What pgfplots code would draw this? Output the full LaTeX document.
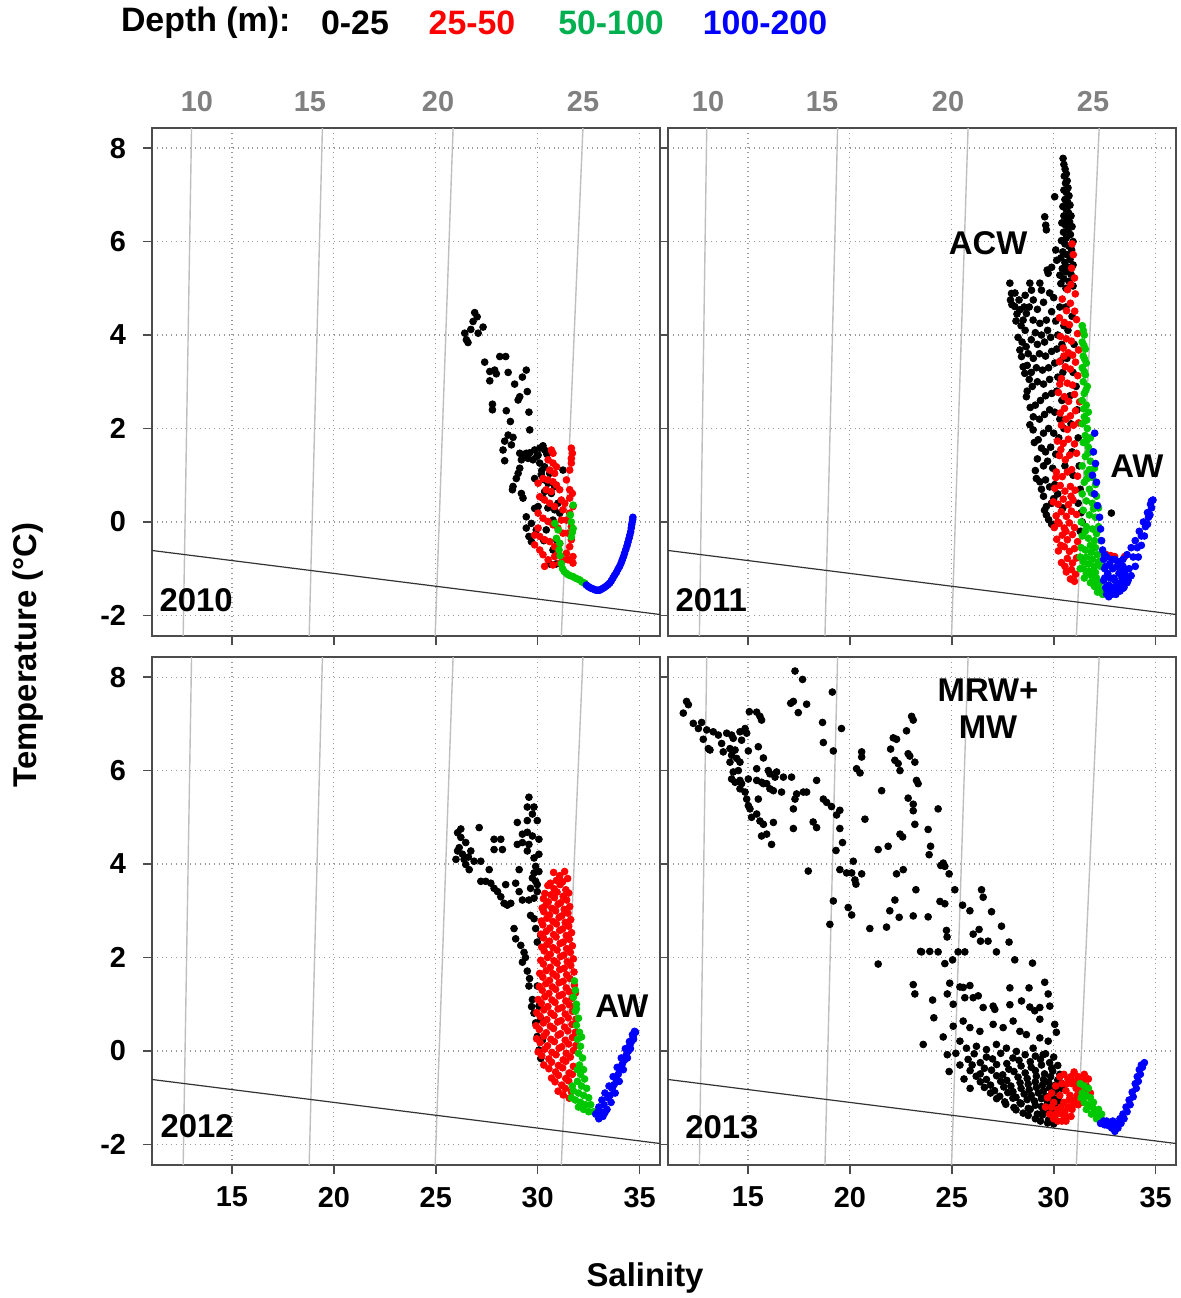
\documentclass[border=0pt]{standalone}
\usepackage{pgfplots}
\pgfplotsset{compat=1.18}
\usepackage{fontspec}
\setmainfont{Liberation Sans}
\definecolor{ptgreen}{RGB}{0,200,0}
\definecolor{lggreen}{RGB}{0,176,80}
\definecolor{ptblue}{RGB}{0,0,255}
\definecolor{ptred}{RGB}{255,0,0}
\definecolor{lblgray}{RGB}{128,128,128}
\tikzset{plab/.style={font=\fontsize{16.5}{18}\selectfont\bfseries}}
\pgfplotsset{
  tspanel/.style={
    scale only axis, width=254bp, height=254bp,
    xmin=11.08, xmax=36, ymin=-2.44, ymax=8.43,
    xtick={15,20,25,30,35}, ytick={-2,0,2,4,6,8},
    tick align=outside, tick pos=left,
    major tick length=4.5bp,
    grid=major, major grid style={dotted, black!40, line width=0.6bp},
    axis line style={black!70, line width=0.8bp},
    tick style={black!70, line width=0.8bp},
    ticklabel style={font=\fontsize{14.5}{16}\selectfont\bfseries},
    /pgf/number format/assume math mode=true,
    anchor=north west,
  },
  dots/.style={only marks, mark=*, mark size=1.7bp, color=#1, mark options={draw=#1, fill=#1}},
  isoline/.style={no marks, color=black!25, line width=0.7bp},
  frz/.style={no marks, color=black!80, line width=0.6bp},
}
\begin{document}
\begin{tikzpicture}
\path[use as bounding box] (0bp,0bp) rectangle (590.5bp,-649bp);

% ---------------- 2010 ----------------
\begin{axis}[tspanel, at={(76bp,-64bp)}, xticklabels={}, yticklabel style={xshift=-5bp}]
\addplot[isoline] coordinates {(12.61,-2.44) (13.02,8.43)};
\addplot[isoline] coordinates {(18.79,-2.44) (19.44,8.43)};
\addplot[isoline] coordinates {(24.97,-2.44) (25.85,8.43)};
\addplot[isoline] coordinates {(31.16,-2.44) (32.22,8.43)};
\addplot[frz] coordinates {(11.08,-0.61) (36,-1.98)};
\addplot[dots=black] coordinates {(26.91,4.48)(27.03,4.39)(26.83,4.29)(26.72,4.12)(26.42,4.04)(27.08,4.04)(27.32,4.17)(26.58,3.84)(26.50,3.90)(27.40,3.42)(28.14,3.54)(28.43,3.54)(27.65,3.22)(27.89,3.25)(27.97,3.17)(27.65,3.02)(28.55,3.20)(29.44,3.25)(29.25,3.10)(28.87,2.95)(29.49,2.79)(29.12,2.68)(29.04,2.61)(27.78,2.52)(27.78,2.40)(28.46,2.38)(29.57,2.35)(28.66,2.15)(29.61,1.97)(28.55,1.86)(28.79,1.81)(28.38,1.73)(28.30,1.54)(28.71,1.65)(28.38,1.31)(29.12,1.47)(29.28,1.43)(29.44,1.47)(29.61,1.48)(29.85,1.54)(30.10,1.58)(30.26,1.63)(30.34,1.54)(29.20,1.33)(29.53,1.36)(29.77,1.33)(30.02,1.43)(30.10,1.26)(30.34,1.18)(29.12,1.15)(29.04,1.04)(28.95,0.93)(28.79,0.76)(28.76,0.69)(29.20,0.61)(29.28,0.51)(29.85,0.93)(30.18,1.01)(30.34,0.90)(30.51,0.83)(30.83,0.76)(30.67,0.61)(30.26,0.51)(30.02,0.33)(29.85,0.29)(29.44,0.11)(29.69,-0.03)(29.44,-0.13)(29.57,-0.31)(29.69,-0.42)(29.93,-0.17)(30.42,-0.17)(30.75,0.04)(30.99,0.40)(30.83,0.26)(31.08,0.19)(30.92,-0.38)(30.75,-0.60)(31.24,1.11)(30.34,0.65)(30.59,1.04)(29.95,1.40)(30.45,1.45)(29.35,1.40)(30.20,1.10)(30.50,0.30)(30.30,-0.40)(30.90,-0.90)(30.60,-0.90)};
\addplot[dots=ptred] coordinates {(30.67,1.54)(30.75,1.47)(31.65,1.58)(31.70,1.47)(31.65,1.36)(30.75,1.26)(30.92,1.18)(30.59,1.11)(30.83,1.04)(30.26,0.93)(30.51,0.90)(30.75,0.86)(30.92,0.79)(30.02,0.83)(30.42,0.69)(30.67,0.65)(31.57,0.69)(31.70,0.61)(31.57,0.51)(30.10,0.54)(30.34,0.47)(30.59,0.40)(30.83,0.33)(30.02,0.19)(30.26,0.08)(30.51,0.01)(30.75,-0.06)(30.02,-0.13)(29.85,-0.28)(30.10,-0.31)(30.34,-0.38)(30.59,-0.42)(29.85,-0.49)(30.10,-0.60)(30.26,-0.70)(30.51,-0.81)(30.34,-0.95)(30.83,-0.53)(30.99,-0.67)(30.83,-0.74)(31.08,-0.88)(31.24,-0.81)(31.41,-0.67)(31.57,-0.53)(31.65,-0.38)(31.49,-0.24)(31.65,-0.10)(31.41,0.04)(31.57,0.19)(31.73,0.33)(31.33,0.40)(31.49,-0.81)(31.73,-0.74)(31.73,-0.88)(31.08,-0.46)(31.24,-0.24)(30.99,-0.13)(31.16,0.04)(31.24,0.26)(31.16,0.47)(31.08,0.69)(31.41,0.90)(31.57,1.11)(31.65,1.26)(30.51,1.33)(30.75,-0.92)};
\addplot[dots=ptgreen] coordinates {(31.74,0.36)(31.65,0.00)(31.74,-0.14)(31.65,-0.32)(30.84,-0.03)(31.00,-0.17)(30.92,-0.35)(31.08,-0.46)(31.60,0.15)(31.70,-0.22)(31.05,-0.60)(31.10,-0.72)(31.16,-0.89)(31.22,-1.00)(31.30,-1.06)(31.41,-1.10)(31.50,-1.13)(31.60,-1.15)(31.74,-1.17)(31.85,-1.20)(31.95,-1.22)(32.06,-1.24)(32.16,-1.28)(32.25,-1.30)(32.31,-1.31)};
\addplot[dots=ptblue] coordinates {(32.39,-1.35)(32.47,-1.38)(32.55,-1.40)(32.63,-1.42)(32.71,-1.43)(32.80,-1.45)(32.88,-1.46)(32.96,-1.46)(33.04,-1.46)(33.12,-1.44)(33.20,-1.42)(33.28,-1.40)(33.37,-1.37)(33.45,-1.34)(33.53,-1.31)(33.61,-1.26)(33.69,-1.20)(33.77,-1.14)(33.86,-1.08)(33.94,-1.01)(34.02,-0.95)(34.09,-0.88)(34.15,-0.81)(34.21,-0.74)(34.26,-0.67)(34.32,-0.59)(34.38,-0.51)(34.43,-0.43)(34.48,-0.35)(34.52,-0.28)(34.56,-0.21)(34.59,-0.13)(34.61,-0.06)(34.64,0.00)(34.66,0.05)(34.67,0.10)};
\node[plab] at (rel axis cs:0.087,0.071) {2010};
\end{axis}

% ---------------- 2011 ----------------
\begin{axis}[tspanel, at={(334bp,-64bp)}, xticklabels={}, yticklabels={}]
\addplot[isoline] coordinates {(12.62,-2.44) (12.98,8.43)};
\addplot[isoline] coordinates {(18.78,-2.44) (19.40,8.43)};
\addplot[isoline] coordinates {(24.99,-2.44) (25.80,8.43)};
\addplot[isoline] coordinates {(31.11,-2.44) (32.23,8.43)};
\addplot[frz] coordinates {(11.08,-0.61) (36,-1.98)};
\addplot[dots=black] coordinates {(30.46,7.78)(30.50,7.65)(30.56,7.55)(30.62,7.45)(30.52,7.40)(30.66,7.30)(30.58,7.25)(30.70,7.15)(30.50,7.10)(30.62,7.05)(30.75,6.98)(30.55,6.90)(30.68,6.85)(30.80,6.78)(30.45,6.75)(30.60,6.70)(30.72,6.62)(30.85,6.55)(30.50,6.55)(30.65,6.48)(30.78,6.42)(30.40,6.40)(30.58,6.35)(30.90,6.32)(30.70,6.25)(30.48,6.20)(30.82,6.15)(30.62,6.08)(30.95,6.00)(30.38,6.02)(30.55,5.95)(30.75,5.90)(30.88,5.82)(30.45,5.78)(30.65,5.72)(30.35,5.65)(30.80,5.62)(30.55,5.55)(30.95,5.50)(30.70,5.45)(30.42,5.42)(30.60,5.35)(30.85,5.30)(30.30,5.28)(30.50,5.20)(30.75,5.15)(30.35,5.10)(30.95,5.05)(30.60,5.00)(30.05,6.96)(29.56,6.53)(29.61,6.35)(29.64,6.25)(30.10,5.82)(29.68,5.39)(29.73,5.32)(30.15,5.60)(29.90,5.45)(27.85,5.11)(27.93,4.89)(27.88,4.75)(27.95,4.65)(28.09,4.61)(28.34,4.54)(28.66,4.46)(28.50,4.32)(28.83,5.11)(28.91,4.96)(29.32,5.11)(29.40,4.96)(28.99,4.32)(29.32,4.25)(29.64,4.32)(28.20,4.45)(28.15,4.30)(28.40,4.20)(28.60,4.10)(28.80,4.60)(29.00,4.75)(29.20,4.55)(29.50,4.70)(29.80,4.90)(30.00,4.80)(29.90,4.50)(30.10,4.30)(29.70,4.10)(29.40,4.00)(29.10,4.05)(28.90,3.90)(29.20,3.80)(29.55,3.85)(29.85,3.95)(30.20,4.00)(30.30,4.60)(28.34,3.68)(28.42,3.54)(28.50,3.32)(28.58,3.18)(28.75,3.60)(29.00,3.50)(29.30,3.60)(29.60,3.55)(29.90,3.65)(30.15,3.70)(30.40,3.80)(30.50,4.20)(28.90,3.20)(29.15,3.30)(29.45,3.25)(29.75,3.30)(30.05,3.40)(30.35,3.45)(28.66,2.68)(28.95,2.90)(29.20,3.00)(29.50,2.95)(29.80,3.05)(30.20,3.10)(30.45,3.20)(28.83,2.08)(28.99,1.97)(29.10,2.50)(29.35,2.60)(29.60,2.70)(29.90,2.75)(30.15,2.80)(30.40,2.60)(29.24,1.76)(29.40,1.58)(29.30,2.20)(29.55,2.30)(29.80,2.40)(30.05,2.35)(30.30,2.20)(29.50,1.90)(29.75,2.00)(30.00,1.90)(30.25,1.80)(29.60,1.50)(29.85,1.60)(30.10,1.45)(29.50,1.20)(29.70,1.30)(29.95,1.15)(29.15,0.93)(29.32,0.86)(29.60,0.90)(29.80,0.75)(30.05,0.80)(29.64,0.33)(29.64,0.15)(29.89,0.40)(29.50,0.55)(30.00,0.50)(30.20,0.60)(32.83,0.19)(30.60,4.60)(30.90,4.40)(30.70,4.10)(31.00,3.80)(30.65,3.50)(30.95,3.20)(31.10,2.90)(30.80,2.70)(31.15,2.40)(30.85,2.10)(31.20,1.80)(30.90,1.50)(31.25,1.20)(30.95,1.00)(31.30,0.70)(31.20,0.40)(31.35,0.20)(31.40,0.00)(31.30,-0.20)(30.50,2.00)(30.55,1.20)(30.45,0.30)(28.10,4.90)(28.30,4.75)(28.60,4.85)(28.55,4.60)(28.25,3.95)(28.45,3.85)(28.65,3.75)(28.70,3.35)(28.80,3.05)(28.70,2.80)(28.85,2.45)(29.00,2.25)(29.05,1.70)(29.20,1.35)(29.10,1.10)(29.40,0.70)(29.55,0.25)(29.75,0.05)(29.90,-0.05)};
\addplot[dots=ptred] coordinates {(30.90,5.95)(30.96,5.72)(30.88,5.43)(31.02,5.22)(30.84,5.08)(31.06,4.88)(30.68,4.97)(30.42,4.77)(30.63,4.52)(30.82,4.68)(31.03,4.51)(30.28,4.37)(30.52,4.27)(30.77,4.22)(31.12,4.33)(30.33,3.97)(30.62,3.92)(30.87,3.87)(31.17,4.03)(30.47,3.72)(30.72,3.62)(30.93,3.57)(31.22,3.68)(30.28,3.43)(30.57,3.32)(30.82,3.27)(31.07,3.42)(30.38,3.07)(30.67,2.97)(30.92,2.93)(31.18,3.13)(30.23,2.77)(30.52,2.68)(30.73,2.58)(31.02,2.73)(31.27,2.57)(30.32,2.33)(30.53,2.43)(30.82,2.27)(31.07,2.38)(30.38,2.07)(30.67,1.98)(30.97,2.07)(31.22,2.12)(30.18,1.73)(30.47,1.68)(30.72,1.77)(31.02,1.67)(30.28,1.42)(30.57,1.33)(30.78,1.43)(31.12,1.47)(30.13,1.07)(30.42,0.97)(30.67,1.07)(30.88,1.12)(31.17,0.98)(30.05,0.72)(30.32,0.78)(30.55,0.66)(30.82,0.76)(31.05,0.68)(29.98,0.43)(30.22,0.38)(30.47,0.49)(30.72,0.37)(30.95,0.47)(30.12,0.13)(30.37,0.22)(30.62,0.12)(30.87,0.23)(31.12,0.16)(30.03,-0.12)(30.27,-0.03)(30.52,-0.13)(30.77,-0.02)(31.02,-0.12)(30.15,-0.37)(30.42,-0.28)(30.67,-0.38)(30.92,-0.27)(31.17,-0.42)(30.23,-0.62)(30.52,-0.53)(30.77,-0.63)(31.02,-0.57)(30.38,-0.87)(30.67,-0.78)(30.92,-0.88)(31.12,-0.77)(30.62,-1.07)(30.87,-1.02)(31.07,-1.12)(30.82,-1.22)(31.02,-1.27)(30.10,0.95)(30.35,1.55)(30.60,2.20)(30.30,2.95)(30.50,3.55)(30.20,0.00)(30.35,-0.50)(30.55,-0.95)(30.85,0.55)(30.60,-0.20)(32.59,-0.70)(32.80,-0.72)(32.99,-0.74)(33.48,-0.74)};
\addplot[dots=ptgreen] coordinates {(31.40,4.20)(31.50,4.00)(31.40,3.85)(31.55,3.70)(31.45,3.55)(31.60,3.40)(31.40,3.30)(31.55,3.15)(31.45,3.00)(31.65,2.90)(31.50,2.75)(31.40,2.60)(31.60,2.50)(31.70,2.35)(31.50,2.25)(31.40,2.10)(31.65,2.00)(31.55,1.85)(31.80,1.80)(31.45,1.70)(31.70,1.60)(31.90,1.50)(31.55,1.40)(31.80,1.30)(31.40,1.20)(32.00,1.15)(31.65,1.05)(31.90,0.95)(31.50,0.85)(32.05,0.80)(31.75,0.70)(31.40,0.60)(32.10,0.55)(31.60,0.45)(31.90,0.40)(32.20,0.30)(31.45,0.25)(31.75,0.15)(32.05,0.10)(31.35,0.00)(31.60,-0.10)(31.90,-0.15)(32.20,-0.10)(31.40,-0.30)(31.70,-0.35)(32.00,-0.40)(32.30,-0.40)(31.35,-0.55)(31.55,-0.60)(31.85,-0.65)(32.15,-0.70)(31.45,-0.85)(31.70,-0.90)(32.00,-0.95)(32.30,-0.95)(31.60,-1.10)(31.85,-1.15)(32.10,-1.20)(31.80,-1.30)(32.00,-1.38)(32.20,-1.42)(32.30,-1.50)(31.30,-0.75)(31.30,-1.00)(31.50,-1.20)(31.45,4.10)(31.48,3.78)(31.52,3.48)(31.50,3.22)(31.58,2.82)(31.47,2.42)(31.62,2.18)(31.60,1.72)(31.68,1.47)(31.75,1.12)(31.62,0.92)(31.85,0.62)(31.95,0.28)(32.10,-0.25)(31.55,-0.20)(31.80,-0.50)(32.05,-0.55)(31.60,-0.75)(31.90,-0.80)(32.20,-0.85)(31.45,-1.00)(31.75,-1.05)(32.05,-1.08)(31.95,-1.25)(32.25,-1.30)(32.15,-1.50)(32.40,-1.55)};
\addplot[dots=ptblue] coordinates {(32.01,1.90)(31.95,1.50)(32.05,1.25)(31.90,1.00)(32.10,0.85)(32.00,0.60)(32.15,0.35)(32.25,0.10)(32.30,-0.15)(32.35,-0.40)(32.40,-0.60)(32.45,-0.80)(32.50,-1.00)(32.50,-1.20)(32.55,-1.40)(32.60,-1.55)(32.70,-1.60)(32.60,-0.75)(32.75,-0.90)(32.90,-1.00)(33.00,-0.80)(32.65,-1.10)(32.80,-1.20)(33.00,-1.25)(33.20,-1.10)(33.40,-0.95)(32.70,-1.35)(32.90,-1.40)(33.10,-1.45)(33.30,-1.30)(33.50,-1.15)(32.85,-1.55)(33.05,-1.55)(33.25,-1.48)(33.45,-1.40)(33.65,-1.25)(32.55,-0.95)(32.45,-1.25)(33.40,-1.42)(33.60,-1.30)(33.80,-1.15)(34.00,-0.95)(34.15,-0.75)(34.30,-0.50)(34.45,-0.30)(34.60,-0.05)(34.72,0.15)(34.80,0.30)(34.87,0.47)(33.20,-0.85)(33.40,-0.80)(33.60,-0.70)(33.80,-0.55)(34.00,-0.40)(34.20,-0.20)(34.40,0.00)(34.60,0.20)(34.75,0.38)(33.70,-1.00)(33.90,-0.75)(34.10,-0.55)(34.30,-0.30)(34.50,-0.10)(34.65,0.10)(34.80,0.45)(32.60,-1.45)(32.75,-1.50)(32.95,-1.20)(33.15,-1.35)(33.35,-1.20)(33.50,-1.05)(32.85,-0.80)(33.10,-0.95)(33.30,-1.05)(32.50,-0.70)};
\node[plab] at (rel axis cs:0.085,0.071) {2011};
\node[plab] at (rel axis cs:0.63,0.774) {ACW};
\node[plab] at (rel axis cs:0.923,0.335) {AW};
\end{axis}

% ---------------- 2012 ----------------
\begin{axis}[tspanel, at={(76bp,-328.5bp)}, yticklabel style={xshift=-5bp}, xticklabel style={yshift=-3bp}]
\addplot[isoline] coordinates {(12.61,-2.44) (13.02,8.43)};
\addplot[isoline] coordinates {(18.79,-2.44) (19.44,8.43)};
\addplot[isoline] coordinates {(24.97,-2.44) (25.85,8.43)};
\addplot[isoline] coordinates {(31.16,-2.44) (32.22,8.43)};
\addplot[frz] coordinates {(11.08,-0.61) (36,-1.98)};
\addplot[dots=black] coordinates {(26.07,4.67)(26.23,4.57)(26.15,4.35)(25.99,4.10)(26.31,4.21)(26.47,3.99)(26.64,3.88)(26.47,4.46)(26.72,4.28)(26.88,4.06)(27.13,4.78)(27.21,4.06)(26.23,4.75)(26.07,4.28)(26.39,4.10)(26.60,4.15)(27.86,4.53)(28.19,4.53)(28.27,4.31)(27.86,4.31)(27.62,3.88)(27.21,3.63)(27.45,3.63)(27.70,3.59)(27.86,3.48)(28.03,3.41)(28.19,3.30)(28.35,3.16)(28.51,3.12)(28.68,3.16)(28.43,3.56)(28.92,3.59)(29.09,3.41)(29.25,3.23)(29.57,3.23)(29.82,3.27)(29.98,3.41)(29.90,3.63)(29.82,3.81)(30.06,3.84)(29.98,3.56)(29.57,5.43)(29.49,5.22)(29.82,5.22)(29.74,5.07)(29.98,4.93)(29.00,4.89)(29.49,4.93)(29.25,4.64)(29.49,4.68)(29.74,4.60)(29.00,4.42)(29.25,4.46)(29.57,4.42)(30.06,4.53)(30.06,4.21)(29.82,4.13)(29.49,4.28)(29.09,3.88)(29.90,3.95)(29.74,3.70)(29.65,3.48)(28.84,2.62)(28.92,2.40)(29.17,2.26)(29.33,2.11)(29.25,1.90)(29.49,1.71)(29.57,1.39)(29.74,1.10)(29.82,0.81)(29.90,0.60)(29.98,0.31)(30.06,0.02)(30.15,-0.16)(29.65,2.90)(29.90,2.62)(29.98,2.33)(29.82,2.83)(30.15,2.47)(29.98,1.39)(30.06,0.96)(30.15,0.67)(30.23,0.23)(29.40,2.00)(29.60,1.55)(29.70,0.95)};
\addplot[dots=ptred] coordinates {(30.78,3.82)(31.08,3.75)(31.32,3.84)(30.62,3.59)(30.92,3.65)(31.22,3.62)(31.47,3.69)(30.50,3.54)(30.80,3.47)(31.10,3.56)(31.38,3.45)(30.35,3.37)(30.65,3.34)(30.95,3.40)(31.25,3.31)(31.52,3.38)(30.28,3.26)(30.52,3.19)(30.82,3.28)(31.12,3.17)(31.42,3.23)(30.22,3.06)(30.40,3.12)(30.70,3.05)(31.00,3.14)(31.30,3.03)(31.57,3.09)(30.30,2.98)(30.58,2.91)(30.88,3.00)(31.18,2.89)(31.48,2.95)(30.18,2.78)(30.45,2.84)(30.75,2.77)(31.05,2.86)(31.35,2.75)(31.62,2.81)(30.25,2.70)(30.60,2.63)(30.92,2.72)(31.22,2.61)(31.52,2.67)(30.15,2.50)(30.42,2.56)(30.78,2.49)(31.08,2.58)(31.40,2.47)(31.66,2.53)(30.28,2.42)(30.58,2.35)(30.90,2.44)(31.25,2.33)(31.55,2.39)(30.20,2.22)(30.45,2.28)(30.75,2.21)(31.10,2.30)(31.42,2.19)(31.70,2.25)(30.32,2.14)(30.62,2.07)(30.95,2.16)(31.28,2.05)(31.60,2.11)(30.15,1.94)(30.48,2.00)(30.80,1.93)(31.12,2.02)(31.45,1.91)(31.75,1.97)(30.28,1.86)(30.62,1.79)(30.95,1.88)(31.30,1.77)(31.62,1.83)(30.10,1.66)(30.42,1.72)(30.75,1.65)(31.08,1.74)(31.42,1.63)(31.78,1.69)(30.25,1.58)(30.58,1.51)(30.92,1.60)(31.25,1.49)(31.58,1.55)(30.08,1.38)(30.40,1.44)(30.72,1.37)(31.05,1.46)(31.40,1.35)(31.80,1.41)(30.22,1.30)(30.55,1.23)(30.88,1.32)(31.22,1.21)(31.55,1.27)(31.85,1.24)(30.02,1.10)(30.35,1.16)(30.70,1.09)(31.05,1.18)(31.38,1.07)(31.70,1.13)(30.18,1.02)(30.50,0.95)(30.85,1.04)(31.20,0.93)(31.55,0.99)(31.85,0.96)(29.95,0.82)(30.30,0.88)(30.65,0.81)(31.00,0.90)(31.35,0.79)(31.70,0.85)(30.12,0.74)(30.45,0.67)(30.80,0.76)(31.15,0.65)(31.50,0.71)(31.88,0.68)(29.92,0.54)(30.28,0.60)(30.62,0.53)(30.98,0.62)(31.32,0.51)(31.68,0.57)(30.08,0.46)(30.42,0.39)(30.78,0.48)(31.12,0.37)(31.48,0.43)(31.85,0.40)(29.95,0.26)(30.30,0.32)(30.65,0.25)(31.00,0.34)(31.35,0.23)(31.70,0.29)(30.12,0.18)(30.48,0.11)(30.82,0.20)(31.18,0.09)(31.52,0.15)(31.88,0.12)(30.02,-0.02)(30.35,0.04)(30.70,-0.03)(31.05,0.06)(31.40,-0.05)(31.75,0.01)(30.20,-0.10)(30.55,-0.17)(30.90,-0.08)(31.25,-0.19)(31.60,-0.13)(30.30,-0.30)(30.68,-0.24)(31.02,-0.31)(31.38,-0.22)(31.75,-0.33)(30.55,-0.38)(30.88,-0.45)(31.22,-0.36)(31.55,-0.47)(30.68,-0.58)(31.02,-0.52)(31.38,-0.59)(31.70,-0.50)(30.85,-0.66)(31.18,-0.73)(31.52,-0.64)(31.00,-0.86)(31.35,-0.80)(31.65,-0.87)(31.25,-0.94)(31.55,-1.01)};
\addplot[dots=ptgreen] coordinates {(31.80,1.50)(31.85,1.30)(31.75,1.15)(31.90,1.00)(31.85,0.85)(32.00,0.70)(31.90,0.55)(32.05,0.40)(31.95,0.25)(32.10,0.10)(32.00,-0.05)(32.20,-0.15)(32.05,-0.30)(32.25,-0.40)(32.10,-0.50)(32.30,-0.60)(31.95,-0.65)(32.15,-0.75)(32.40,-0.80)(31.75,-0.85)(32.00,-0.90)(32.25,-0.95)(32.50,-1.00)(31.65,-1.00)(31.85,-1.05)(32.10,-1.10)(32.35,-1.15)(32.60,-1.15)(32.00,-1.20)(32.25,-1.25)(32.50,-1.30)(32.75,-1.30)(32.85,-1.35)(31.90,0.90)(32.15,0.30)(31.95,-0.40)(31.70,-0.75)};
\addplot[dots=ptblue] coordinates {(32.85,-1.35)(33.00,-1.20)(33.15,-1.05)(33.30,-0.90)(33.50,-0.75)(33.70,-0.55)(33.90,-0.35)(34.10,-0.15)(34.30,0.05)(34.50,0.20)(34.65,0.35)(34.75,0.42)(33.00,-1.45)(33.20,-1.40)(33.40,-1.25)(33.60,-1.10)(33.80,-0.90)(34.00,-0.65)(34.20,-0.40)(34.40,-0.15)(34.55,0.05)(34.70,0.25)(34.80,0.40)(32.95,-1.30)(33.10,-1.30)(33.25,-1.15)(33.45,-1.00)(33.65,-0.80)(33.85,-0.60)(34.05,-0.40)(34.25,-0.20)(34.45,0.00)(34.60,0.20)(33.08,-1.38)(33.30,-1.32)(33.55,-0.95)(33.75,-0.72)(33.95,-0.50)(34.15,-0.28)(34.35,-0.08)(34.52,0.12)(34.68,0.30)};
\node[plab] at (rel axis cs:0.089,0.077) {2012};
\node[plab] at (rel axis cs:0.925,0.312) {AW};
\end{axis}

% ---------------- 2013 ----------------
\begin{axis}[tspanel, at={(334bp,-328.5bp)}, yticklabels={}, xticklabel style={yshift=-3bp}]
\addplot[isoline] coordinates {(12.62,-2.44) (12.98,8.43)};
\addplot[isoline] coordinates {(18.78,-2.44) (19.40,8.43)};
\addplot[isoline] coordinates {(24.99,-2.44) (25.80,8.43)};
\addplot[isoline] coordinates {(31.11,-2.44) (32.23,8.43)};
\addplot[frz] coordinates {(11.08,-0.61) (36,-1.98)};
\addplot[dots=black] coordinates {(17.31,8.13)(17.68,7.95)(19.14,7.68)(11.99,7.48)(12.08,7.41)(11.83,7.23)(17.10,7.44)(17.23,7.48)(17.88,7.42)(17.47,7.24)(15.07,7.26)(15.43,7.25)(15.59,7.16)(15.67,7.08)(12.32,7.01)(12.73,7.03)(12.57,6.90)(12.98,6.87)(13.30,6.83)(12.81,6.67)(13.06,6.47)(13.14,6.44)(13.55,6.76)(13.96,6.80)(14.20,6.76)(14.61,6.83)(14.86,6.90)(14.94,6.80)(14.69,6.65)(14.28,6.69)(13.71,6.58)(13.79,6.40)(14.12,6.47)(14.37,6.44)(14.45,6.26)(14.12,6.18)(14.20,6.33)(14.61,6.18)(15.02,6.42)(15.51,6.51)(15.76,6.27)(15.43,6.04)(16.00,6.00)(16.08,5.93)(16.41,5.97)(16.33,5.86)(16.74,5.86)(17.14,5.86)(14.20,5.82)(14.37,5.75)(14.61,5.79)(14.28,5.97)(14.53,6.00)(14.69,5.72)(14.61,5.61)(14.86,5.54)(15.02,5.82)(15.43,5.79)(15.67,5.75)(15.76,5.72)(15.92,5.72)(16.08,5.61)(16.25,5.57)(14.94,5.39)(15.51,5.39)(15.02,5.25)(15.10,5.18)(15.18,5.00)(15.43,5.07)(15.59,4.92)(15.76,4.85)(15.92,4.64)(15.67,4.60)(16.16,4.42)(16.25,4.89)(16.65,5.54)(17.39,5.50)(17.72,5.54)(17.88,5.54)(17.31,5.39)(17.23,5.18)(17.23,4.76)(17.96,3.85)(18.20,4.90)(18.37,4.78)(18.37,5.79)(18.66,7.03)(18.70,6.60)(19.19,6.42)(19.59,6.90)(18.70,5.39)(18.86,5.32)(19.10,5.23)(19.51,5.15)(19.35,5.05)(19.51,4.76)(19.32,4.29)(19.64,4.46)(19.19,3.21)(19.92,3.07)(20.09,2.91)(19.02,2.71)(19.51,3.88)(19.84,3.81)(20.09,3.81)(20.17,4.06)(20.25,3.66)(20.30,3.57)(20.58,3.79)(20.74,4.96)(20.58,6.40)(20.58,6.29)(20.33,6.04)(20.50,5.95)(21.39,4.31)(21.56,5.57)(21.88,4.38)(20.98,2.62)(21.39,1.86)(21.80,2.65)(21.96,3.00)(22.21,3.23)(22.29,3.79)(22.42,2.86)(22.62,3.88)(22.59,4.58)(22.46,4.64)(23.11,2.89)(23.24,3.45)(23.84,2.87)(23.92,2.13)(23.47,2.13)(22.00,6.46)(22.13,6.70)(22.29,6.67)(22.21,6.22)(22.37,6.15)(22.46,6.00)(22.78,6.85)(22.86,6.36)(22.94,6.31)(23.03,7.16)(23.11,7.08)(23.19,6.18)(23.27,5.79)(23.35,5.72)(22.86,5.41)(23.11,5.28)(23.11,5.14)(23.19,4.85)(23.84,4.74)(23.96,4.38)(23.89,4.20)(24.33,5.18)(24.46,3.97)(24.58,4.02)(24.66,3.95)(24.87,3.79)(24.42,3.20)(24.66,3.15)(25.15,3.45)(25.53,3.12)(25.89,3.00)(26.46,3.45)(26.54,3.29)(26.95,2.98)(23.52,2.12)(24.33,2.12)(24.66,1.87)(24.74,2.58)(24.77,2.44)(25.04,1.95)(25.31,2.12)(25.64,2.12)(26.05,2.50)(26.34,2.60)(26.41,2.35)(26.78,2.35)(27.19,2.12)(27.44,2.67)(27.81,2.33)(28.09,1.95)(28.96,1.88)(23.11,1.42)(23.19,1.22)(24.06,1.09)(24.12,0.71)(23.60,0.14)(24.58,0.30)(24.78,-0.08)(24.87,-0.44)(24.90,1.45)(25.07,1.00)(24.78,1.22)(25.40,1.37)(25.56,1.36)(25.89,1.40)(25.64,1.14)(26.05,1.14)(26.30,1.18)(26.54,0.93)(27.03,0.96)(27.11,0.89)(27.85,0.99)(28.42,1.07)(27.85,1.35)(28.79,1.35)(29.32,0.93)(29.56,1.47)(29.73,1.22)(29.81,0.96)(30.05,0.57)(30.13,0.40)(28.83,0.94)(29.07,0.86)(29.32,0.68)(25.07,0.53)(25.56,0.64)(25.89,0.50)(26.38,0.42)(27.03,0.57)(27.52,0.50)(28.01,0.64)(28.34,0.42)(28.66,0.35)(29.32,0.28)(29.73,0.21)(25.40,0.21)(25.72,0.06)(26.21,0.10)(26.70,0.03)(27.19,0.14)(27.68,0.06)(28.17,-0.01)(28.99,0.06)(29.48,-0.08)(25.40,-0.30)(25.20,-0.05)(25.60,-0.60)(25.90,-0.80)(26.10,-0.06)(26.70,-0.13)(27.40,-0.05)(28.00,-0.15)(28.60,-0.08)(29.10,-0.11)(29.60,-0.06)(30.00,-0.13)(25.80,-0.18)(26.40,-0.25)(27.00,-0.17)(27.70,-0.27)(28.30,-0.20)(28.85,-0.23)(29.35,-0.18)(29.80,-0.25)(26.00,-0.30)(26.60,-0.37)(27.20,-0.29)(27.80,-0.39)(28.40,-0.32)(28.90,-0.35)(29.40,-0.30)(29.90,-0.37)(30.20,-0.31)(25.90,-0.42)(26.40,-0.49)(26.95,-0.41)(27.50,-0.51)(28.05,-0.44)(28.60,-0.47)(29.10,-0.42)(29.55,-0.49)(29.95,-0.43)(30.30,-0.50)(26.20,-0.54)(26.70,-0.61)(27.20,-0.53)(27.70,-0.63)(28.25,-0.56)(28.70,-0.59)(29.15,-0.54)(29.50,-0.61)(29.85,-0.55)(30.20,-0.62)(26.40,-0.66)(26.90,-0.73)(27.40,-0.65)(27.90,-0.75)(28.35,-0.68)(28.75,-0.71)(29.10,-0.66)(29.45,-0.73)(29.75,-0.67)(30.05,-0.74)(30.35,-0.68)(26.60,-0.78)(27.10,-0.85)(27.55,-0.77)(28.00,-0.87)(28.40,-0.80)(28.80,-0.83)(29.15,-0.78)(29.50,-0.85)(29.80,-0.79)(30.10,-0.86)(30.40,-0.80)(26.90,-0.90)(27.35,-0.97)(27.75,-0.89)(28.15,-0.99)(28.55,-0.92)(28.90,-0.95)(29.25,-0.90)(29.60,-0.97)(29.90,-0.91)(30.25,-0.98)(27.20,-1.02)(27.60,-1.09)(28.00,-1.01)(28.35,-1.11)(28.70,-1.04)(29.05,-1.07)(29.40,-1.02)(29.70,-1.09)(30.00,-1.03)(30.25,-1.10)(27.65,-1.14)(28.05,-1.21)(28.40,-1.13)(28.75,-1.23)(29.10,-1.16)(29.40,-1.19)(29.70,-1.14)(30.00,-1.21)(30.25,-1.15)(28.15,-1.26)(28.50,-1.33)(28.85,-1.25)(29.20,-1.35)(29.50,-1.28)(29.80,-1.31)(30.10,-1.26)(28.75,-1.38)(29.10,-1.45)(29.45,-1.37)(29.75,-1.47)(30.05,-1.40)(29.35,-1.50)(29.70,-1.54)(30.00,-1.56)};
\addplot[dots=ptred] coordinates {(29.60,-1.20)(29.80,-1.35)(30.00,-1.45)(30.20,-1.50)(30.00,-1.10)(30.20,-1.25)(30.40,-1.35)(30.60,-1.40)(30.30,-0.95)(30.50,-1.10)(30.70,-1.20)(30.90,-1.25)(30.40,-0.70)(30.60,-0.85)(30.80,-0.95)(31.00,-1.05)(31.20,-1.15)(30.50,-0.50)(30.70,-0.60)(30.90,-0.70)(31.10,-0.80)(31.30,-0.90)(31.00,-0.45)(31.20,-0.55)(31.40,-0.65)(31.60,-0.75)(31.50,-0.50)(31.70,-0.60)(31.80,-0.90)(29.90,-0.90)(30.10,-0.75)(30.30,-0.55)(31.35,-1.10)(30.85,-1.40)(29.70,-1.00)(29.90,-1.20)(30.10,-1.35)(30.35,-1.20)(30.55,-1.30)(30.75,-1.05)(30.95,-1.15)(31.15,-0.95)(31.40,-0.80)(30.65,-0.70)(30.85,-0.55)(31.05,-0.65)(31.25,-0.75)(31.55,-0.60)(31.60,-0.90)(31.45,-1.00)(30.40,-1.50)(30.60,-1.50)};
\addplot[dots=ptgreen] coordinates {(31.30,-0.70)(31.50,-0.75)(31.40,-0.90)(31.60,-0.95)(31.80,-1.00)(31.50,-1.10)(31.70,-1.15)(31.90,-1.20)(32.00,-1.30)(32.15,-1.35)(32.30,-1.45)(32.45,-1.50)(31.60,-1.25)(31.85,-1.35)(32.10,-1.45)(31.70,-0.80)(31.95,-1.10)(32.20,-1.25)(31.35,-1.00)(32.35,-1.35)(32.55,-1.55)};
\addplot[dots=ptblue] coordinates {(32.30,-1.55)(32.50,-1.58)(32.70,-1.60)(32.85,-1.65)(33.00,-1.72)(33.15,-1.65)(33.30,-1.55)(33.45,-1.45)(33.60,-1.30)(33.75,-1.15)(33.90,-0.98)(34.05,-0.80)(34.15,-0.65)(34.25,-0.50)(34.35,-0.35)(34.45,-0.25)(33.10,-1.55)(33.25,-1.45)(33.40,-1.35)(33.55,-1.20)(33.70,-1.05)(33.85,-0.88)(34.00,-0.70)(34.10,-0.55)(34.20,-0.40)(34.30,-0.30)(32.90,-1.50)(33.05,-1.60)(32.60,-1.50)(32.45,-1.50)};
\node[plab] at (rel axis cs:0.106,0.075) {2013};
\node[plab] at (rel axis cs:0.63,0.935) {MRW+};
\node[plab] at (rel axis cs:0.63,0.862) {MW};
\end{axis}

% top density labels
\begin{scope}[every node/.style={font=\fontsize{14.5}{16}\selectfont\bfseries, text=lblgray}]
\node at (98.5bp,-51bp) {10};
\node at (155bp,-51bp) {15};
\node at (219bp,-51bp) {20};
\node at (291.5bp,-51bp) {25};
\node at (354bp,-51bp) {10};
\node at (411bp,-51bp) {15};
\node at (474bp,-51bp) {20};
\node at (546.5bp,-51bp) {25};
\end{scope}

% legend
\begin{scope}[every node/.style={font=\fontsize{17}{19}\selectfont\bfseries}]
\node[anchor=west] at (57bp,-11.5bp) {Depth (m):};
\node at (177.5bp,-11.5bp) {0-25};
\node[text=ptred] at (236bp,-11.5bp) {25-50};
\node[text=lggreen] at (305.5bp,-11.5bp) {50-100};
\node[text=ptblue] at (382.5bp,-11.5bp) {100-200};
\end{scope}

% axis titles
\node[font=\fontsize{16.5}{18}\selectfont\bfseries, rotate=90] at (14bp,-327.5bp) {Temperature (°C)};
\node[font=\fontsize{16.5}{18}\selectfont\bfseries] at (322.5bp,-639bp) {Salinity};
\end{tikzpicture}
\end{document}
